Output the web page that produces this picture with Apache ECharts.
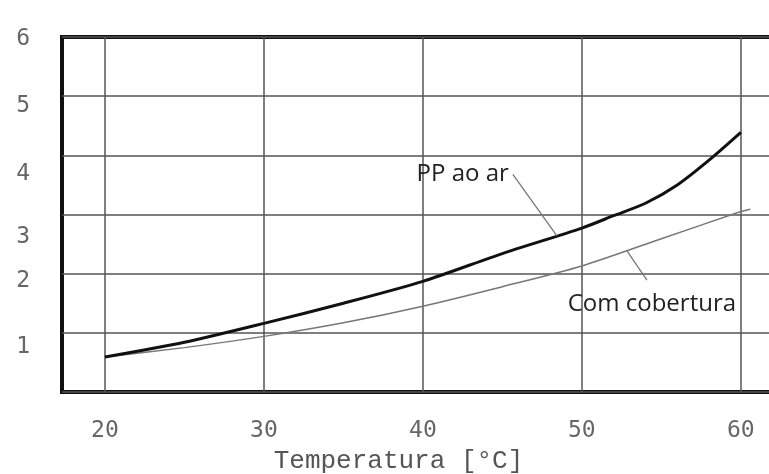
<!DOCTYPE html>
<html>
<head>
<meta charset="utf-8">
<script src="https://cdn.jsdelivr.net/npm/echarts@6/dist/echarts.min.js"></script>
<style>
  html, body { margin: 0; padding: 0; background: #fff; }
  #c { width: 769px; height: 474px; }
</style>
</head>
<body>
<div id="c"></div>
<script>
// Curve "PP ao ar": temperature (°C) and value
const tempsAir = [20, 25, 30, 35, 40, 45, 50, 52, 54, 56, 58, 60];
const valuesAir = [0.59, 0.84, 1.16, 1.50, 1.87, 2.34, 2.77, 2.98, 3.19, 3.50, 3.92, 4.39];

// Curve "Com cobertura"
const tempsCover = [20, 25, 30, 35, 40, 45, 50, 55, 60, 60.6];
const valuesCover = [0.59, 0.75, 0.94, 1.17, 1.45, 1.78, 2.13, 2.59, 3.05, 3.09];

// Tick values
const xTicks = [20, 30, 40, 50, 60];
const yTicks = [1, 2, 3, 4, 5, 6];

// Annotation leader lines: [temperature, value], label end first
const leaderAir = [[45.66, 3.68], [48.43, 2.64]];
const leaderCover = [[52.83, 2.39], [54.09, 1.89]];

const labelAir = 'PP ao ar';
const labelCover = 'Com cobertura';

const pair = (xs, ys) => xs.map((x, i) => [x, ys[i]]);

// per-label vertical nudge of the y tick labels (px)
const yShift = { 1: 14, 2: 7, 3: 23, 4: 19, 5: 10, 6: 2 };
const yRich = {};
yTicks.forEach(v => { yRich['s' + v] = { padding: [yShift[v] * 2, 0, 0, 0] }; });

const tickFont = { fontFamily: 'DejaVu Sans Mono', fontSize: 23, color: '#666' };
const noteFont = { fontFamily: 'Open Sans', fontSize: 24, color: '#222' };

const chart = echarts.init(document.getElementById('c'), null, { renderer: 'canvas' });

chart.setOption({
  animation: false,
  backgroundColor: '#fff',
  grid: {
    left: 62, right: -10, top: 37, bottom: 82,
    outerBoundsMode: 'none', containLabel: false,
    show: true, borderColor: '#111', borderWidth: 4, backgroundColor: 'transparent'
  },
  xAxis: {
    type: 'value', min: 17.3, max: 62.4,
    axisLine: { show: false },
    axisTick: { show: false, customValues: xTicks },
    axisLabel: Object.assign({ customValues: xTicks, margin: 28 }, tickFont),
    splitLine: { show: true, lineStyle: { color: '#555', width: 1.5 } },
    name: 'Temperatura [°C]',
    nameLocation: 'middle',
    nameGap: 54,
    nameTextStyle: { fontFamily: 'Liberation Mono', fontSize: 26, color: '#555', padding: [0, 44, 0, 0] }
  },
  yAxis: {
    type: 'value', min: 0, max: 6, interval: 1,
    axisLine: { show: false },
    axisTick: { show: false },
    axisLabel: Object.assign({
      margin: 32,
      formatter: v => (yTicks.indexOf(v) >= 0 ? '{s' + v + '|' + v + '}' : ''),
      rich: yRich
    }, tickFont),
    splitLine: { show: true, lineStyle: { color: '#555', width: 1.5 } }
  },
  series: [
    {
      name: labelCover, type: 'line', data: pair(tempsCover, valuesCover),
      smooth: 0.25, symbol: 'none',
      lineStyle: { color: '#777', width: 1.5 }, z: 3
    },
    {
      name: labelAir, type: 'line', data: pair(tempsAir, valuesAir),
      smooth: 0.25, symbol: 'none',
      lineStyle: { color: '#111', width: 3 }, z: 4
    },
    {
      type: 'line', symbol: 'circle', symbolSize: 0,
      lineStyle: { color: '#777', width: 1.3 }, z: 5,
      data: [
        { value: leaderAir[0], label: Object.assign({ show: true, position: 'left', distance: 4, formatter: labelAir }, noteFont) },
        { value: leaderAir[1] }
      ]
    },
    {
      type: 'line', symbol: 'circle', symbolSize: 0,
      lineStyle: { color: '#777', width: 1.3 }, z: 5,
      data: [
        { value: leaderCover[0] },
        { value: leaderCover[1], label: Object.assign({ show: true, position: 'bottom', distance: 12, offset: [5, 0], formatter: labelCover }, noteFont) }
      ]
    }
  ]
});
</script>
</body>
</html>
